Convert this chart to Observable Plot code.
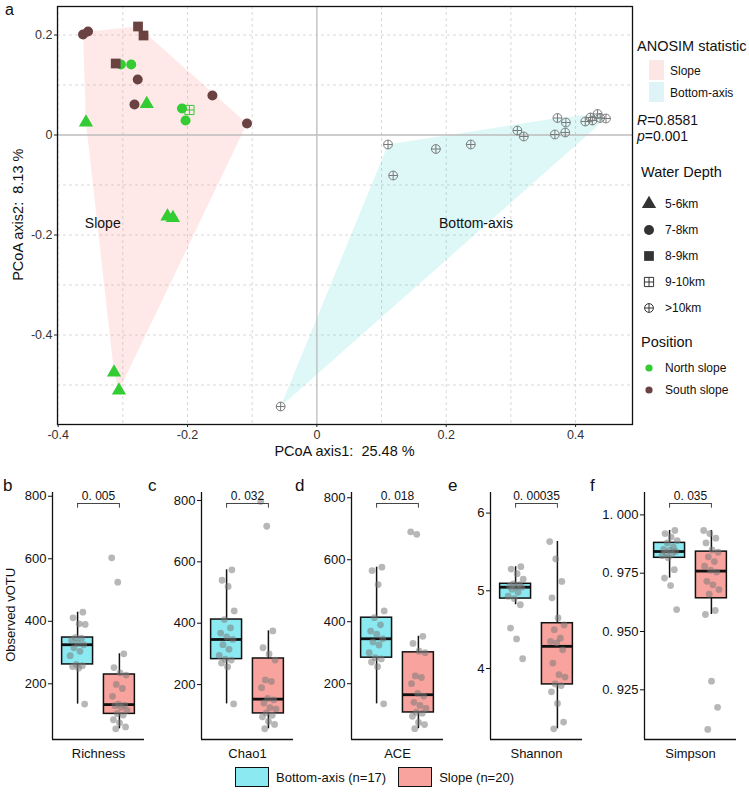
<!DOCTYPE html>
<html><head><meta charset="utf-8">
<script src="https://cdn.jsdelivr.net/npm/d3@7"></script>
<script src="https://cdn.jsdelivr.net/npm/@observablehq/plot@0.6"></script>
<style>
body{margin:0;background:#fff;font-family:"Liberation Sans",Arial,sans-serif;}
#root{position:relative;width:749px;height:794px;overflow:hidden;background:#fff;}
#root svg{position:absolute;overflow:visible;}
svg text{white-space:pre;}
</style></head><body><div id="root"></div>
<script>
// ---------------- Panel a: PCoA data ----------------
const slopeX = [-0.3615,-0.3538,-0.2765,-0.268,-0.311,-0.303,-0.287,-0.277,-0.282,-0.263,-0.357,-0.2085,-0.197,-0.203,-0.1615,-0.108,-0.231,-0.2225,-0.3136,-0.306];
const slopeY = [0.201,0.207,0.217,0.199,0.143,0.141,0.141,0.111,0.061,0.062,0.025,0.053,0.050,0.029,0.079,0.023,-0.163,-0.166,-0.475,-0.511];
const slopeDepth = ["7-8km","7-8km","8-9km","8-9km","8-9km","7-8km","7-8km","7-8km","7-8km","5-6km","5-6km","7-8km","9-10km","7-8km","7-8km","7-8km","5-6km","5-6km","5-6km","5-6km"];
const slopePosition = ["South slope","South slope","South slope","South slope","South slope","North slope","North slope","South slope","South slope","North slope","North slope","North slope","North slope","North slope","South slope","South slope","North slope","North slope","North slope","North slope"];
const bottomX = [0.110,0.118,0.184,0.238,0.310,0.320,0.368,0.384,0.372,0.385,0.415,0.423,0.426,0.434,0.438,0.447,-0.056];
const bottomY = [-0.019,-0.081,-0.028,-0.019,0.009,-0.003,0.001,0.005,0.034,0.025,0.027,0.035,0.029,0.042,0.034,0.033,-0.543];
const depthLevels = ["5-6km","7-8km","8-9km","9-10km",">10km"];
const positionLevels = ["North slope","South slope"];
const groupNames = ["Slope","Bottom-axis"];
const groupLabelX = [-0.331, 0.246];
const groupLabelY = [-0.178, -0.178];
const axisXTicks = [-0.4,-0.2,0,0.2,0.4];
const axisYTicks = [-0.4,-0.2,0,0.2];
const gridXValues = [-0.4,-0.3,-0.2,-0.1,0.1,0.2,0.3,0.4];
const gridYValues = [-0.5,-0.4,-0.3,-0.2,-0.1,0.1,0.2];
const axis1Title = "PCoA axis1:  25.48 %";
const axis2Title = "PCoA axis2:  8.13 %";
const anosimR = "0.8581";
const anosimP = "0.001";

// ---------------- Panels b-f: alpha diversity ----------------
const metrics = ["Richness","Chao1","ACE","Shannon","Simpson"];
const panelLetters = ["b","c","d","e","f"];
const pLabels = ["0. 005","0. 032","0. 018","0. 00035","0. 035"];
const groupLegend = ["Bottom-axis (n=17)","Slope (n=20)"];
const richnessBottom = [135,250,255,258,262,290,304,315,325,330,339,346,348,390,392,411,429];
const richnessSlope = [56,62,75,85,100,105,115,125,130,132,135,160,185,198,228,235,252,296,525,603];
const chao1Bottom = [137,258,270,280,283,295,315,330,347,355,368,385,412,440,520,540,574];
const chao1Slope = [56,70,80,95,100,108,120,125,140,150,155,190,210,215,280,300,320,375,716,797];
const aceBottom = [135,255,270,280,284,300,325,335,345,360,370,390,413,435,520,565,576];
const aceSlope = [55,68,75,95,105,108,120,130,140,160,169,200,220,225,300,305,330,353,682,690];
const shannonBottom = [4.125,4.38,4.52,4.82,4.90,4.93,4.98,5.02,5.046,5.05,5.06,5.08,5.09,5.15,5.22,5.28,5.31];
const shannonSlope = [3.224,3.31,3.55,3.70,3.78,3.80,3.89,3.92,4.07,4.24,4.33,4.35,4.39,4.50,4.56,4.65,4.91,5.12,5.41,5.634];
const simpsonBottom = [0.9594,0.9697,0.9729,0.9765,0.9816,0.9825,0.9832,0.9838,0.9843,0.9848,0.9852,0.9862,0.9880,0.9890,0.9905,0.9920,0.9933];
const simpsonSlope = [0.908,0.9175,0.9287,0.9573,0.9590,0.9660,0.9680,0.9700,0.9715,0.9755,0.9763,0.9780,0.9800,0.9820,0.9840,0.9850,0.9880,0.9900,0.9920,0.9933];
const countTicks = [200,400,600,800];
const shannonTicks = [4,5,6];
const simpsonTicks = [0.925,0.95,0.975,1.0];

// ---------------- styling ----------------
const FONT = "Liberation Sans, Arial, Helvetica, sans-serif";
const GREEN = "#33CC33", BROWN = "#6A4242", GREY = "#7A7A7A";
const CYAN = "#8AE9F1", PINK = "#F8A39D";
const root = document.getElementById("root");

function addDiv(html, left, cy, size, extra) {
  const d = document.createElement("div");
  d.innerHTML = html;
  d.style.cssText = `position:absolute;left:${left}px;top:${cy - size*0.6}px;font-size:${size}px;line-height:${size*1.2}px;white-space:pre;color:#111;font-family:${FONT};`;
  if (extra) Object.assign(d.style, extra);
  root.appendChild(d);
  return d;
}
function placeSvg(svg, left, top) {
  svg.style.left = left + "px"; svg.style.top = top + "px";
  root.appendChild(svg);
}

// custom symbols
const circlePlus = {draw(ctx, size){ const r = Math.sqrt(size/Math.PI); ctx.moveTo(r,0); ctx.arc(0,0,r,0,2*Math.PI); ctx.moveTo(-r,0); ctx.lineTo(r,0); ctx.moveTo(0,-r); ctx.lineTo(0,r);} };
const squarePlus = {draw(ctx, size){ const s = Math.sqrt(size)/2; ctx.rect(-s,-s,2*s,2*s); ctx.moveTo(-s,0); ctx.lineTo(s,0); ctx.moveTo(0,-s); ctx.lineTo(0,s);} };
const depthSymbol = {"5-6km":"triangle","7-8km":"circle","8-9km":"square","9-10km":squarePlus,">10km":circlePlus};
const depthR = {"5-6km":5.3,"7-8km":5,"8-9km":5.5,"9-10km":5.2,">10km":4.4};
const posColor = {"North slope":GREEN,"South slope":BROWN,"Bottom-axis":GREY};

// ---------------- Panel a ----------------
const slopePts = slopeX.map((x,i)=>({x, y: slopeY[i], depth: slopeDepth[i], pos: slopePosition[i]}));
const bottomPts = bottomX.map((x,i)=>({x, y: bottomY[i], depth: ">10km", pos: "Bottom-axis"}));
const allPts = slopePts.concat(bottomPts);
const slopeHull = d3.polygonHull(slopePts.map(d=>[d.x,d.y]));
const bottomHull = d3.polygonHull(bottomPts.map(d=>[d.x,d.y]));
const groupLabelData = groupNames.map((g,i)=>({g, x: groupLabelX[i], y: groupLabelY[i]}));
const fmtTop = d => d === 0 ? "0" : String(+d.toFixed(1));

const topPlot = Plot.plot({
  width: 749, height: 465,
  marginLeft: 57, marginRight: 117, marginTop: 6, marginBottom: 41,
  x: {domain: [-0.401, 0.488]},
  y: {domain: [-0.579, 0.257]},
  color: {type: "identity"},
  style: {fontFamily: FONT, background: "transparent", color: "#222"},
  marks: [
    Plot.gridX(gridXValues, {stroke: "#cfcfcf", strokeOpacity: 1, strokeDasharray: "3,3", strokeWidth: 0.8}),
    Plot.gridY(gridYValues, {stroke: "#cfcfcf", strokeOpacity: 1, strokeDasharray: "3,3", strokeWidth: 0.8}),
    Plot.line(slopeHull, {x: d=>d[0], y: d=>d[1], fill: "#F8766D", fillOpacity: 0.16, stroke: "none"}),
    Plot.line(bottomHull, {x: d=>d[0], y: d=>d[1], fill: "#00BFC4", fillOpacity: 0.13, stroke: "none"}),
    Plot.ruleX([0], {stroke: "#bcbcbc", strokeWidth: 1.3}),
    Plot.ruleY([0], {stroke: "#bcbcbc", strokeWidth: 1.3}),
    Plot.text(groupLabelData, {x: "x", y: "y", text: "g", fontSize: 14, fill: "#111"}),
    ...depthLevels.map(dl => {
      const sym = depthSymbol[dl];
      const hollow = typeof sym !== "string";
      return Plot.dot(allPts.filter(d => d.depth === dl), {
        x: "x", y: "y", symbol: sym, r: depthR[dl],
        fill: hollow ? "none" : d => posColor[d.pos],
        stroke: hollow ? d => posColor[d.pos] : "none",
        strokeWidth: 1
      });
    }),
    Plot.frame({stroke: "#111", strokeWidth: 1.3}),
    Plot.axisX({ticks: axisXTicks, tickSize: 3, tickPadding: 3, fontSize: 12.5, tickFormat: fmtTop, label: null, fill: "#333"}),
    Plot.axisY({ticks: axisYTicks, tickSize: 3, tickPadding: 2, fontSize: 12.5, tickFormat: fmtTop, label: null, fill: "#333"})
  ]
});
placeSvg(topPlot, 0, 0);

addDiv("a", 5, 10, 16);
addDiv(axis1Title, 344.5, 452, 14.5, {transform: "translateX(-50%)"});
addDiv(axis2Title, 19, 215, 14.5, {transform: "translate(-50%,0) rotate(-90deg)", transformOrigin: "50% 50%"});

// legend (panel a)
addDiv("ANOSIM statistic", 637, 47, 14.5);
[["#FDE7E6", 60], ["#DEF4F6", 82]].forEach(([c, t]) => {
  const s = document.createElement("div");
  s.style.cssText = `position:absolute;left:649px;top:${t}px;width:15px;height:20px;background:${c};`;
  root.appendChild(s);
});
addDiv(groupNames[0], 670, 71, 12);
addDiv(groupNames[1], 670, 93, 12);
addDiv(`<i>R</i>=${anosimR}`, 637, 120, 14);
addDiv(`<i>p</i>=${anosimP}`, 637, 136, 14);
addDiv("Water Depth", 641, 173, 14.5);
const legendSvgNS = "http://www.w3.org/2000/svg";
function legendSymbol(sym, r, cx, cy, color, hollow) {
  const svg = document.createElementNS(legendSvgNS, "svg");
  svg.setAttribute("width", 20); svg.setAttribute("height", 20);
  svg.style.left = (cx - 10) + "px"; svg.style.top = (cy - 10) + "px";
  const p = document.createElementNS(legendSvgNS, "path");
  const type = typeof sym === "string" ? {triangle: d3.symbolTriangle, circle: d3.symbolCircle, square: d3.symbolSquare}[sym] : sym;
  p.setAttribute("d", d3.symbol(type, Math.PI * r * r)());
  p.setAttribute("transform", "translate(10,10)");
  if (hollow) { p.setAttribute("fill", "none"); p.setAttribute("stroke", color); p.setAttribute("stroke-width", 1); }
  else p.setAttribute("fill", color);
  svg.appendChild(p);
  root.appendChild(svg);
}
const depthLegendY = [204, 230, 256, 282, 308];
depthLevels.forEach((dl, i) => {
  const sym = depthSymbol[dl];
  legendSymbol(sym, depthR[dl], 649, depthLegendY[i], "#333", typeof sym !== "string");
  addDiv(dl, 665, depthLegendY[i], 12);
});
addDiv("Position", 641, 343, 14.5);
const posLegendY = [368, 390];
positionLevels.forEach((p, i) => {
  legendSymbol("circle", 3.6, 649, posLegendY[i], posColor[p], false);
  addDiv(p, 665, posLegendY[i], 12);
});

// ---------------- Panels b-f ----------------
const bottomSeries = [richnessBottom, chao1Bottom, aceBottom, shannonBottom, simpsonBottom];
const slopeSeries = [richnessSlope, chao1Slope, aceSlope, shannonSlope, simpsonSlope];
const yDomains = [[21.8, 812], [21, 826], [20, 817], [3.086, 6.265], [0.9037, 1.0096]];
const yTickSets = [countTicks, countTicks, countTicks, shannonTicks, simpsonTicks];
const yFormats = [d=>String(d), d=>String(d), d=>String(d), d=>String(d), d=>d3.format(".3f")(d).replace(".", ". ")];
const panelLeft = [51.5, 201, 350.7, 489.5, 644.3];
const panelLetterX = [3, 148, 295, 448, 590];

function boxStats(arr) {
  const s = arr.slice().sort(d3.ascending);
  const q1 = d3.quantileSorted(s, 0.25), med = d3.quantileSorted(s, 0.5), q3 = d3.quantileSorted(s, 0.75);
  const iqr = q3 - q1;
  const inside = s.filter(v => v >= q1 - 1.5*iqr && v <= q3 + 1.5*iqr);
  return {q1, med, q3, lo: d3.min(inside), hi: d3.max(inside)};
}
const jit = i => (((i + 1) * 0.6180339887) % 1 - 0.5) * 0.38;
const HW = 0.37;

metrics.forEach((m, k) => {
  const groups = [{g: 1, vals: bottomSeries[k], color: CYAN}, {g: 2, vals: slopeSeries[k], color: PINK}];
  const stats = groups.map(G => Object.assign({g: G.g, color: G.color}, boxStats(G.vals)));
  const pts = groups.flatMap(G => G.vals.map((v, i) => ({g: G.g, v, i: i + G.g * 7})));
  const [y0, y1] = yDomains[k];
  const span = y1 - y0;
  const bY = y1 - span * 0.0445;
  const bT = span * 0.019;
  const p = Plot.plot({
    width: 148, height: 300,
    marginLeft: 50, marginRight: 6, marginTop: 12, marginBottom: 41,
    x: {domain: [0.4, 2.6], axis: null},
    y: {domain: [y0, y1], axis: null},
    color: {type: "identity"},
    style: {fontFamily: FONT, background: "transparent", color: "#111"},
    marks: [
      Plot.ruleX(stats, {x: "g", y1: "lo", y2: "hi", stroke: "#111", strokeWidth: 1.5}),
      Plot.rect(stats, {x1: d => d.g - HW, x2: d => d.g + HW, y1: "q1", y2: "q3", fill: "color", stroke: "#111", strokeWidth: 1.5}),
      Plot.ruleY(stats, {y: "med", x1: d => d.g - HW, x2: d => d.g + HW, stroke: "#111", strokeWidth: 2.8}),
      Plot.dot(pts, {x: d => d.g + jit(d.i), y: "v", r: 3.4, fill: "#7c7c7c", fillOpacity: 0.55, stroke: "none"}),
      Plot.ruleY([bY], {x1: 1, x2: 2, stroke: "#444", strokeWidth: 1}),
      Plot.ruleX([1, 2], {y1: bY, y2: bY - bT, stroke: "#444", strokeWidth: 1}),
      Plot.text([pLabels[k]], {x: 1.5, y: bY, dy: -7, fontSize: 12, fill: "#111"}),
      Plot.ruleX([0.4], {stroke: "#111", strokeWidth: 1.3}),
      Plot.ruleY([y0], {stroke: "#111", strokeWidth: 1.3}),
      Plot.axisY({ticks: yTickSets[k], tickSize: 4, tickPadding: 2, fontSize: 13, tickFormat: yFormats[k], label: null, fill: "#111"}),
      Plot.text([m], {frameAnchor: "bottom", dy: 18, fontSize: 13, fill: "#111"})
    ]
  });
  placeSvg(p, panelLeft[k] - 50, 480);
  addDiv(panelLetters[k], panelLetterX[k], 486, 17);
});
addDiv("Observed vOTU", 11, 615, 13, {transform: "translate(-50%,0) rotate(-90deg)", transformOrigin: "50% 50%"});

// bottom legend
const leg = document.createElement("div");
leg.style.cssText = `position:absolute;left:0;top:767px;width:749px;display:flex;justify-content:center;align-items:center;font-family:${FONT};font-size:13px;color:#111;`;
[[CYAN, groupLegend[0]], [PINK, groupLegend[1]]].forEach(([c, t], i) => {
  const sw = document.createElement("span");
  sw.style.cssText = `display:inline-block;width:34px;height:20px;background:${c};border:1.3px solid #111;box-sizing:border-box;margin-left:${i ? 12 : 0}px;margin-right:7px;`;
  const tx = document.createElement("span");
  tx.textContent = t;
  leg.appendChild(sw); leg.appendChild(tx);
});
root.appendChild(leg);
</script></body></html>
